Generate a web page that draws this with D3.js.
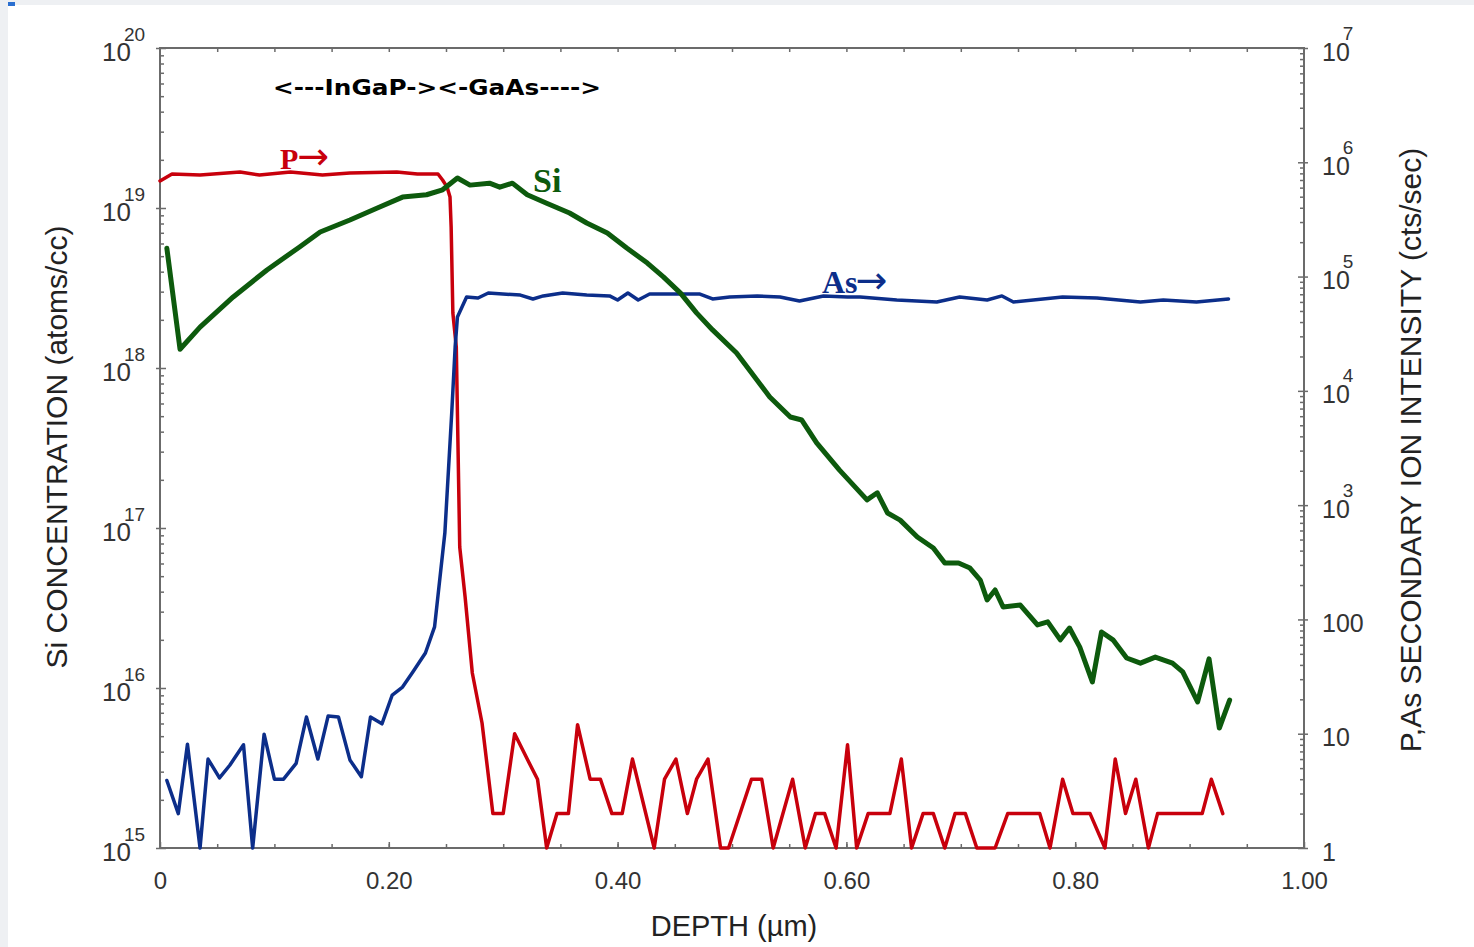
<!DOCTYPE html>
<html>
<head>
<meta charset="utf-8">
<script src="https://cdn.jsdelivr.net/npm/d3@7"></script>
<style>
  body { margin: 0; background: #eef0f3; }
  svg { display: block; }
</style>
</head>
<body>
<div id="chart"></div>
<script>
// SIMS depth profile: Si (left axis, atoms/cc), P and As (right axis, cts/sec)
var siDepth = [0.006,0.0175,0.035,0.064,0.0935,0.122,0.140,0.166,0.190,0.212,0.233,0.247,0.260,0.271,0.288,0.297,0.308,0.321,0.338,0.358,0.373,0.391,0.408,0.426,0.440,0.455,0.469,0.483,0.504,0.533,0.551,0.561,0.574,0.594,0.618,0.627,0.636,0.647,0.662,0.676,0.686,0.698,0.708,0.717,0.723,0.730,0.737,0.752,0.767,0.776,0.787,0.795,0.804,0.815,0.823,0.833,0.845,0.857,0.870,0.885,0.894,0.907,0.917,0.926,0.935];
var siConc = [5.6e18,1.31e18,1.8e18,2.78e18,4.1e18,5.71e18,7.08e18,8.41e18,1.0e19,1.17e19,1.21e19,1.3e19,1.54e19,1.39e19,1.43e19,1.35e19,1.43e19,1.21e19,1.07e19,9.31e18,8.06e18,6.98e18,5.62e18,4.53e18,3.71e18,2.94e18,2.21e18,1.73e18,1.24e18,6.59e17,4.94e17,4.73e17,3.4e17,2.3e17,1.5e17,1.66e17,1.24e17,1.12e17,8.78e16,7.5e16,6.04e16,6.04e16,5.62e16,4.73e16,3.55e16,4.1e16,3.21e16,3.3e16,2.48e16,2.59e16,2.0e16,2.37e16,1.8e16,1.09e16,2.24e16,2.0e16,1.54e16,1.43e16,1.56e16,1.43e16,1.26e16,8.18e15,1.52e16,5.62e15,8.41e15];

var asDepth = [0.006,0.016,0.024,0.035,0.042,0.052,0.061,0.073,0.081,0.091,0.100,0.108,0.119,0.128,0.138,0.147,0.156,0.166,0.176,0.184,0.194,0.203,0.212,0.221,0.232,0.240,0.249,0.255,0.258,0.260,0.268,0.278,0.287,0.315,0.326,0.335,0.352,0.373,0.393,0.400,0.409,0.418,0.428,0.446,0.472,0.483,0.498,0.522,0.542,0.559,0.580,0.601,0.612,0.644,0.679,0.699,0.723,0.736,0.746,0.789,0.819,0.857,0.877,0.906,0.934];
var asCounts = [3.9,2.0,8.1,1.0,6.0,4.1,5.3,8.0,1.0,9.9,4.0,4.0,5.5,14,6.0,14.3,14,5.9,4.2,14,12.2,21.8,25.6,34.7,50.8,86,570,6400,24200,44300,66200,64900,71800,68900,63700,67700,71800,68900,67700,62400,71800,62400,70300,70300,70300,63700,66200,67700,66200,61200,67700,66200,66200,62400,59900,66200,62400,67700,59900,66200,64900,59900,62400,59900,63700];

var pDepth = [0,0.0105,0.035,0.070,0.087,0.114,0.142,0.166,0.207,0.225,0.243,0.247,0.251,0.2535,0.2545,0.256,0.259,0.2605,0.262,0.2667,0.273,0.2815,0.291,0.300,0.310,0.321,0.330,0.338,0.347,0.357,0.365,0.376,0.385,0.395,0.404,0.413,0.432,0.441,0.451,0.461,0.469,0.479,0.490,0.497,0.517,0.526,0.536,0.553,0.564,0.573,0.581,0.591,0.601,0.609,0.619,0.638,0.648,0.657,0.667,0.676,0.686,0.695,0.704,0.714,0.730,0.741,0.769,0.778,0.789,0.798,0.813,0.826,0.835,0.844,0.853,0.864,0.872,0.911,0.919,0.929];
var pCounts = [686000,789000,774000,822000,774000,822000,774000,805000,822000,789000,789000,699000,606000,497000,271000,48000,24200,3230,430,157,34,12.4,2,2,10,6,4,1,2,2,12,4,4,2,2,6,1,4,6,2,4,6,1,1,4,4,1,4,1,2,2,1,8,1,2,2,6,1,2,2,1,2,2,1,1,2,2,1,4,2,2,1,6,2,4,1,2,2,4,2];

// axis ticks
var depthTicks = [0, 0.2, 0.4, 0.6, 0.8, 1.0];
var depthTickLabels = ["0", "0.20", "0.40", "0.60", "0.80", "1.00"];
var leftTicks = [1e15, 1e16, 1e17, 1e18, 1e19, 1e20];
var leftTickExp = ["15", "16", "17", "18", "19", "20"];
var rightTicks = [1, 10, 100, 1e3, 1e4, 1e5, 1e6, 1e7];
var rightTickBase = ["1", "10", "100", "10", "10", "10", "10", "10"];
var rightTickExp = ["", "", "", "3", "4", "5", "6", "7"];

function init() {
    var w = 1474, h = 947;
    var left = 160, right = 1304, top = 48, bottom = 848;

    var svg = d3.select("#chart").append("svg")
        .attr("width", w)
        .attr("height", h);

    // page background: light grey strips on top/left, white sheet
    svg.append("rect").attr("width", w).attr("height", h).attr("fill", "#eef0f3");
    svg.append("rect").attr("x", 8).attr("y", 5).attr("width", w - 8).attr("height", h - 5).attr("fill", "#ffffff");
    svg.append("rect").attr("x", 8).attr("y", 2).attr("width", 7).attr("height", 4).attr("fill", "#2a6fd0");

    var xScale = d3.scaleLinear().domain([0, 1]).range([left, right]);
    var yLeft = d3.scaleLog().domain([1e15, 1e20]).range([bottom, top]);
    var yRight = d3.scaleLog().domain([1, 1e7]).range([bottom, top]);

    // minor tick positions
    function logMinors(lo, hi) {
        var out = [];
        for (var e = lo; e < hi; e++) {
            for (var m = 2; m <= 9; m++) out.push(m * Math.pow(10, e));
        }
        return out;
    }
    var xMinor = d3.range(0.05, 1.0, 0.05);
    var axisColor = "#6b6b6b";
    var tickFont = "'Liberation Sans', Arial, sans-serif";

    // minor ticks (inward)
    svg.append("g").attr("class", "minor").attr("transform", `translate(0,${bottom})`)
        .call(d3.axisBottom(xScale).tickValues(xMinor).tickSize(-4).tickFormat(""));
    svg.append("g").attr("class", "minor").attr("transform", `translate(0,${top})`)
        .call(d3.axisTop(xScale).tickValues(xMinor).tickSize(-4).tickFormat(""));
    svg.append("g").attr("class", "minor").attr("transform", `translate(${left},0)`)
        .call(d3.axisLeft(yLeft).tickValues(logMinors(15, 20)).tickSize(-4).tickFormat(""));
    svg.append("g").attr("class", "minor").attr("transform", `translate(${right},0)`)
        .call(d3.axisRight(yRight).tickValues(logMinors(0, 7)).tickSize(-4).tickFormat(""));

    // bottom axis
    var xAxisG = svg.append("g").attr("transform", `translate(0,${bottom})`)
        .call(d3.axisBottom(xScale).tickValues(depthTicks)
            .tickSize(-6).tickPadding(24)
            .tickFormat((d, i) => depthTickLabels[i]));
    xAxisG.selectAll("text").style("font-family", tickFont).style("font-size", "24px").attr("fill", "#333");

    // left axis with 10^n labels
    var yLeftG = svg.append("g").attr("transform", `translate(${left},0)`)
        .call(d3.axisLeft(yLeft).tickValues(leftTicks).tickSize(6).tickFormat(""));
    yLeftG.selectAll(".tick line").attr("x1", -4).attr("x2", 6);
    yLeftG.selectAll(".tick text").each(function(d, i) {
        var t = d3.select(this)
            .attr("x", -58).attr("dy", null).attr("y", 12)
            .attr("text-anchor", "start")
            .style("font-family", tickFont).attr("fill", "#333");
        t.append("tspan").style("font-size", "26px").text("10");
        t.append("tspan").attr("dx", -7).attr("dy", -20).style("font-size", "19px").text(leftTickExp[i]);
    });

    // right axis
    var yRightG = svg.append("g").attr("transform", `translate(${right},0)`)
        .call(d3.axisRight(yRight).tickValues(rightTicks).tickSize(6).tickFormat(""));
    yRightG.selectAll(".tick line").attr("x1", -6).attr("x2", 4);
    yRightG.selectAll(".tick text").each(function(d, i) {
        var t = d3.select(this)
            .attr("x", 18).attr("dy", null).attr("y", 12)
            .attr("text-anchor", "start")
            .style("font-family", tickFont).attr("fill", "#333");
        t.append("tspan").style("font-size", "25px").text(rightTickBase[i]);
        if (rightTickExp[i]) {
            t.append("tspan").attr("dx", -7).attr("dy", -21).style("font-size", "19px").text(rightTickExp[i]);
        }
    });

    svg.selectAll(".domain").remove();
    svg.selectAll(".tick line").attr("stroke", axisColor).attr("stroke-width", 1.5);

    // frame
    svg.append("rect")
        .attr("x", left).attr("y", top)
        .attr("width", right - left).attr("height", bottom - top)
        .attr("fill", "none").attr("stroke", axisColor).attr("stroke-width", 2);

    // curves
    var lineP = d3.line().x((d, i) => xScale(pDepth[i])).y(d => yRight(d));
    var lineAs = d3.line().x((d, i) => xScale(asDepth[i])).y(d => yRight(d));
    var lineSi = d3.line().x((d, i) => xScale(siDepth[i])).y(d => yLeft(d));

    svg.append("path").datum(pCounts)
        .attr("d", lineP).attr("fill", "none")
        .attr("stroke", "#c8000c").attr("stroke-width", 3.5)
        .attr("stroke-linejoin", "round").attr("stroke-linecap", "round");
    svg.append("path").datum(asCounts)
        .attr("d", lineAs).attr("fill", "none")
        .attr("stroke", "#0c2e8a").attr("stroke-width", 3.5)
        .attr("stroke-linejoin", "round").attr("stroke-linecap", "round");
    svg.append("path").datum(siConc)
        .attr("d", lineSi).attr("fill", "none")
        .attr("stroke", "#0d5a0d").attr("stroke-width", 5)
        .attr("stroke-linejoin", "round").attr("stroke-linecap", "round");

    // axis titles
    svg.append("text")
        .attr("x", (left + right) / 2 + 2).attr("y", 936)
        .attr("text-anchor", "middle")
        .style("font-family", tickFont).style("font-size", "29px").attr("fill", "#222")
        .text("DEPTH (µm)");
    svg.append("text")
        .attr("transform", "translate(67,447) rotate(-90)")
        .attr("text-anchor", "middle")
        .style("font-family", tickFont).style("font-size", "30px").attr("fill", "#222")
        .text("Si CONCENTRATION (atoms/cc)");
    svg.append("text")
        .attr("transform", "translate(1421,450) rotate(-90)")
        .attr("text-anchor", "middle")
        .style("font-family", tickFont).style("font-size", "30px").attr("fill", "#222")
        .text("P,As SECONDARY ION INTENSITY (cts/sec)");

    // annotations
    svg.append("text")
        .attr("x", 273).attr("y", 95)
        .attr("textLength", 328).attr("lengthAdjust", "spacingAndGlyphs")
        .style("font-family", "'DejaVu Sans', Verdana, sans-serif").style("font-weight", "bold")
        .style("font-size", "21px").attr("fill", "#000")
        .text("<---InGaP-><-GaAs---->");

    var serif = "'Liberation Serif', 'Times New Roman', serif";
    var arrowFont = "'DejaVu Sans', sans-serif";
    var pLab = svg.append("text").attr("x", 280).attr("y", 169)
        .style("font-family", serif).style("font-size", "30px").attr("fill", "#c8000c");
    pLab.append("tspan").style("font-weight", "bold").text("P");
    pLab.append("tspan").attr("dx", -1).style("font-family", arrowFont).style("font-size", "38px").text("→");

    svg.append("text").attr("x", 533).attr("y", 192)
        .style("font-family", serif).style("font-size", "34px").style("font-weight", "bold")
        .attr("fill", "#0d5a0d").text("Si");

    var asLab = svg.append("text").attr("x", 822).attr("y", 293)
        .style("font-family", serif).style("font-size", "32px").attr("fill", "#0c2e8a");
    asLab.append("tspan").style("font-weight", "bold").text("As");
    asLab.append("tspan").attr("dx", -2).style("font-family", arrowFont).style("font-size", "38px").text("→");
}

window.onload = init;
</script>
</body>
</html>
